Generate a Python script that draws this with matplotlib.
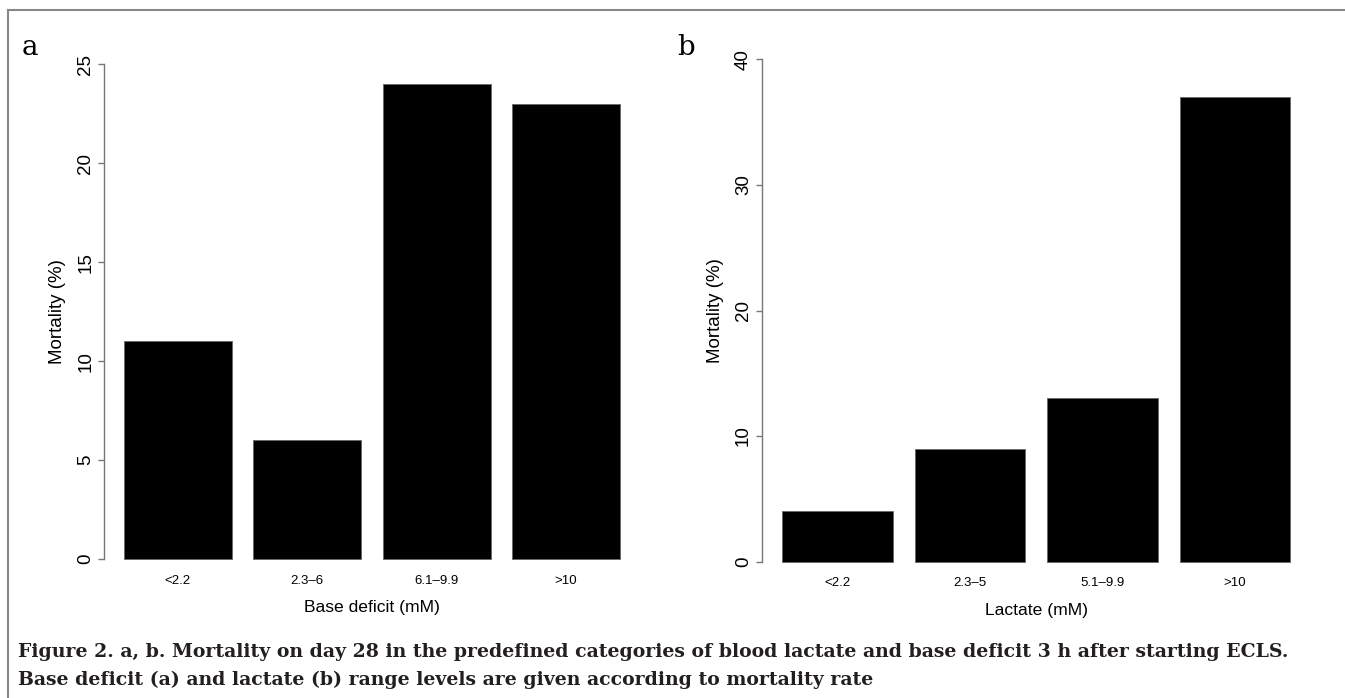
import matplotlib

matplotlib.use("Agg")
import matplotlib.pyplot as plt
import numpy as np
from matplotlib.lines import Line2D

# panel a: base deficit categories
bd_labels = ["<2.2", "2.3\u20136", "6.1\u20139.9", ">10"]
bd_mortality = [11, 6, 24, 23]
bd_ticks = [0, 5, 10, 15, 20, 25]

# panel b: lactate categories
lac_labels = ["<2.2", "2.3\u20135", "5.1\u20139.9", ">10"]
lac_mortality = [4, 9, 13, 37]
lac_ticks = [0, 10, 20, 30, 40]

caption = [
    "Figure 2. a, b. Mortality on day 28 in the predefined categories of blood lactate and base deficit 3 h after starting ECLS.",
    "Base deficit (a) and lactate (b) range levels are given according to mortality rate",
]

W, H = 1345, 698
SANS = ["Liberation Sans", "DejaVu Sans"]
SERIF = ["DejaVu Serif"]


def r_barplot(ax, labels, values, yticks, xlabel):
    # mimic R's barplot(): width 1, space 0.2, 4% axis expansion
    n = len(values)
    left = 0.2 + 1.2 * np.arange(n)
    centers = left + 0.5
    ax.bar(centers, values, width=1.0, color="black", edgecolor="#666666", linewidth=0.6)
    x0, x1 = left[0], left[-1] + 1.0
    dx = 0.04 * (x1 - x0)
    ax.set_xlim(x0 - dx, x1 + dx)
    y0, y1 = yticks[0], yticks[-1]
    dy = 0.04 * (y1 - y0)
    ax.set_ylim(y0 - dy, y1 + dy)

    for s in ["top", "right", "bottom"]:
        ax.spines[s].set_visible(False)
    ax.spines["left"].set_bounds(y0, y1)
    ax.spines["left"].set_color("#777777")
    ax.spines["left"].set_linewidth(1.0)

    ax.set_yticks(yticks)
    ax.set_yticklabels([str(t) for t in yticks], rotation=90, va="center",
                       fontsize=13.5, family=SANS)
    ax.tick_params(axis="y", length=4, width=1.0, color="#777777", pad=3)

    ax.set_xticks(centers)
    ax.set_xticklabels(labels, fontsize=9.5, family=SANS)
    ax.tick_params(axis="x", length=0, pad=-3)

    ax.set_xlabel(xlabel, fontsize=12.6, family=SANS, labelpad=10)
    ax.set_ylabel("Mortality (%)", fontsize=13.5, family=SANS, labelpad=8)


def main():
    fig = plt.figure(figsize=(W / 100, H / 100), dpi=100)

    def px_axes(l, r, t, b):
        return fig.add_axes([l / W, 1 - b / H, (r - l) / W, (b - t) / H])

    ax_a = px_axes(104.2, 639.7, 44.6, 578.7)
    ax_b = px_axes(761.7, 1310.7, 39.4, 581.6)

    r_barplot(ax_a, bd_labels, bd_mortality, bd_ticks, "Base deficit (mM)")
    r_barplot(ax_b, lac_labels, lac_mortality, lac_ticks, "Lactate (mM)")

    fig.text(22 / W, 1 - 55 / H, "a", fontsize=20, family=SERIF, va="baseline", ha="left")
    fig.text(677 / W, 1 - 55 / H, "b", fontsize=20, family=SERIF, va="baseline", ha="left")

    for i, line in enumerate(caption):
        fig.text(18 / W, 1 - (652 + 28 * i) / H, line, fontsize=13.6, family=SERIF,
                 weight="bold", color="#231f20", va="center", ha="left")

    # outer frame: top and left rule
    frame_kw = dict(color="#888888", linewidth=1.5, transform=fig.transFigure)
    fig.add_artist(Line2D([8 / W, 1.0], [1 - 10 / H, 1 - 10 / H], **frame_kw))
    fig.add_artist(Line2D([8 / W, 8 / W], [1 - 10 / H, 0.0], **frame_kw))

    fig.savefig("out.png", dpi=100)
    plt.close(fig)


if __name__ == "__main__":
    main()
